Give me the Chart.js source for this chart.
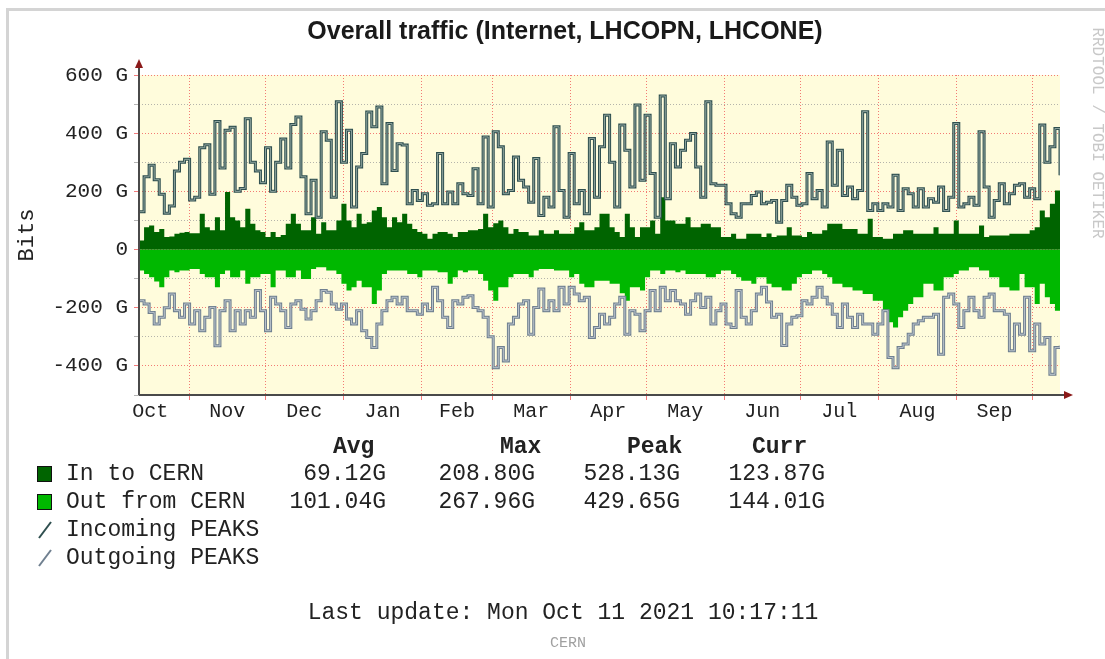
<!DOCTYPE html>
<html>
<head>
<meta charset="utf-8">
<title>Overall traffic (Internet, LHCOPN, LHCONE)</title>
<script src="https://cdn.jsdelivr.net/npm/chart.js@4.4.1/dist/chart.umd.min.js"></script>
<style>
  html, body { margin: 0; padding: 0; background: #fff; }
  #wrap { width: 1105px; height: 659px; }
</style>
</head>
<body>
<div id="wrap"><canvas id="myChart" width="1105" height="659"></canvas></div>
<script>
/* Data (Gbit/s), one value every ~2 days from 12 Oct 2020 to 11 Oct 2021 */

const monthNames = ['Oct', 'Nov', 'Dec', 'Jan', 'Feb', 'Mar', 'Apr', 'May', 'Jun', 'Jul', 'Aug', 'Sep'];
// day offsets (from 12 Oct 2020) of month starts and month middles
const monthStarts = [20, 50, 81, 112, 140, 171, 201, 232, 262, 293, 324, 354];
const monthMids = [4.5, 35, 65.5, 96.5, 126, 155.5, 186, 216.5, 247, 277.5, 308.5, 339];

const inPeaks = [
  130, 250, 290, 240, 190, 125, 150, 270, 300, 310, 170, 180, 350, 360, 190, 440, 280, 410, 420, 200, 210, 450, 300, 270, 230, 350, 200, 300, 380, 280, 430,
  456, 250, 123, 238, 111, 405, 376, 180, 508, 300, 410, 146, 284, 330, 473, 422, 490, 226, 433, 272, 364, 359, 157, 203, 169, 192, 152, 157, 330, 157, 198,
  157, 226, 192, 186, 278, 157, 387, 146, 405, 353, 192, 203, 318, 238, 215, 163, 313, 117, 180, 146, 422, 203, 111, 330, 157, 203, 123, 382, 180, 353,
  462, 300, 146, 428, 341, 215, 497, 238, 462, 261, 111, 528, 175, 364, 284, 341, 376, 399, 284, 180, 508, 226, 221, 221, 157, 123, 111, 157, 157, 186, 198,
  157, 163, 169, 94, 169, 221, 180, 152, 157, 261, 175, 203, 146, 370, 221, 341, 186, 215, 175, 203, 474, 134, 157, 134, 157, 146, 255, 134, 209, 192, 146,
  209, 146, 175, 163, 215, 134, 180, 433, 146, 157, 180, 152, 405, 215, 111, 169, 226, 157, 192, 221, 226, 180, 209, 175, 428, 300, 353, 416, 255
];

const outPeaks = [
  -176, -187, -216, -256, -233, -200, -153, -210, -233, -187, -256, -210, -279, -233, -199, -331, -210, -176, -279, -210, -256, -210, -233, -141, -210, -279, -164, -187, -210, -268, -187,
  -176, -205, -239, -210, -176, -141, -147, -187, -205, -187, -239, -256, -210, -279, -302, -337, -256, -210, -176, -164, -187, -164, -210, -210, -222, -187, -210, -130, -176, -233, -268,
  -176, -187, -164, -159, -199, -210, -233, -300, -406, -337, -383, -256, -233, -187, -176, -291, -199, -136, -210, -176, -210, -130, -187, -130, -153, -176, -164, -302, -268, -222,
  -256, -233, -187, -164, -291, -210, -222, -279, -210, -141, -210, -130, -176, -141, -176, -187, -222, -176, -153, -199, -164, -256, -210, -187, -256, -268, -141, -233, -256, -210, -153,
  -130, -180, -233, -222, -330, -256, -233, -228, -176, -187, -164, -130, -164, -187, -222, -268, -187, -233, -268, -222, -256, -256, -291, -256, -210, -371, -406, -337, -325, -291, -256,
  -245, -233, -233, -222, -360, -164, -153, -187, -268, -210, -164, -210, -233, -164, -153, -210, -210, -222, -348, -256, -291, -164, -348, -256, -325, -302, -429, -337, -331
];

const inAvg = [
  31, 77, 83, 60, 71, 43, 45, 54, 58, 60, 56, 56, 123, 77, 66, 111, 66, 198, 111, 100, 77, 140, 89, 66, 60, 43, 60, 43, 50, 89, 123,
  89, 66, 66, 111, 54, 94, 66, 66, 100, 157, 100, 77, 123, 89, 94, 134, 146, 111, 77, 111, 94, 123, 89, 71, 60, 54, 37, 54, 60, 60, 54,
  43, 60, 60, 66, 66, 71, 123, 77, 90, 100, 77, 54, 71, 60, 60, 48, 48, 66, 54, 54, 66, 54, 54, 54, 77, 94, 66, 66, 77, 123,
  123, 77, 60, 43, 123, 77, 43, 77, 77, 100, 54, 180, 100, 100, 89, 89, 111, 77, 77, 89, 89, 77, 77, 43, 43, 54, 37, 37, 54, 54, 54,
  43, 55, 43, 48, 48, 77, 48, 48, 43, 60, 54, 54, 66, 89, 89, 89, 71, 71, 71, 54, 54, 106, 43, 43, 37, 37, 54, 54, 66, 66, 54,
  54, 54, 54, 77, 54, 54, 54, 100, 54, 54, 54, 54, 83, 43, 48, 48, 48, 48, 54, 54, 54, 54, 66, 77, 134, 111, 157, 203, 123
];

const outAvg = [
  -72, -84, -95, -110, -130, -95, -72, -78, -72, -72, -67, -67, -84, -95, -95, -130, -84, -72, -95, -95, -72, -118, -95, -95, -84, -84, -130, -72, -72, -95, -95,
  -72, -101, -101, -67, -61, -61, -72, -72, -84, -118, -141, -130, -107, -130, -130, -187, -141, -84, -72, -72, -72, -72, -84, -84, -95, -72, -72, -72, -78, -78, -118,
  -95, -72, -78, -72, -72, -84, -107, -141, -176, -130, -130, -95, -84, -84, -84, -95, -72, -67, -67, -67, -72, -72, -72, -95, -84, -118, -130, -130, -107, -107,
  -107, -118, -118, -150, -176, -130, -130, -141, -95, -72, -72, -84, -72, -72, -78, -72, -84, -84, -84, -84, -95, -95, -84, -72, -72, -84, -95, -107, -107, -118, -95,
  -95, -118, -130, -130, -141, -141, -118, -95, -84, -84, -72, -72, -84, -95, -118, -118, -130, -130, -141, -141, -153, -153, -176, -176, -210, -250, -268, -233, -210, -187, -164,
  -164, -118, -118, -141, -141, -95, -95, -84, -72, -72, -61, -61, -72, -72, -95, -95, -130, -130, -141, -141, -84, -130, -130, -187, -118, -164, -187, -210, -176
];

const statHeaders = ['Avg', 'Max', 'Peak', 'Curr'];
const statRows = [
  ['In to CERN', '69.12G', '208.80G', '528.13G', '123.87G'],
  ['Out from CERN', '101.04G', '267.96G', '429.65G', '144.01G']
];
const peakRows = ['Incoming PEAKS', 'Outgoing PEAKS'];

/* Colours */
const IN_COLOR = '#006400';
const OUT_COLOR = '#00b800';
const IN_PEAK = '#2f4f4f';
const OUT_PEAK = '#708090';
const RED_GRID = 'rgba(240, 90, 90, 0.8)';
const GRAY_GRID = 'rgba(150, 150, 150, 0.7)';

function mono (px, bold) {
  return (bold ? 'bold ' : '') + px + 'px "Liberation Mono", "DejaVu Sans Mono", monospace';
}

// spread the samples over the 365 day range
function toPoints (vals) {
  return vals.map(function (v, i) {
    return { x: i * 365 / (vals.length - 1), y: v };
  });
}

function lineSet (vals, color, width) {
  return {
    data: toPoints(vals),
    borderColor: color,
    borderWidth: width,
    stepped: 'before',
    fill: false,
    pointRadius: 0,
    borderJoinStyle: 'miter',
    borderCapStyle: 'butt'
  };
}

function areaSet (vals, color) {
  return {
    data: toPoints(vals),
    borderWidth: 0,
    borderColor: color,
    backgroundColor: color,
    stepped: 'before',
    fill: 'origin',
    pointRadius: 0
  };
}

/* Plugin: background, axes with arrows, title, legend table, footer */
const rrdDecor = {
  id: 'rrdDecor',
  beforeDraw(chart) {
    const ctx = chart.ctx;
    const a = chart.chartArea;
    ctx.save();
    ctx.fillStyle = '#ffffff';
    ctx.fillRect(0, 0, chart.width, chart.height);
    ctx.fillStyle = '#d4d4d4';
    ctx.fillRect(6, 8, chart.width - 6, 3);
    ctx.fillRect(6, 8, 3, chart.height - 8);
    ctx.fillStyle = '#fffcdc';
    ctx.fillRect(a.left, a.top, a.right - a.left, a.bottom - a.top);
    ctx.restore();
  },
  afterDraw(chart) {
    const ctx = chart.ctx;
    const a = chart.chartArea;
    ctx.save();

    // axes
    ctx.strokeStyle = '#4a4a4a';
    ctx.lineWidth = 2;
    ctx.beginPath();
    ctx.moveTo(a.left, a.bottom);
    ctx.lineTo(a.right + 6, a.bottom);
    ctx.moveTo(a.left, a.bottom);
    ctx.lineTo(a.left, a.top - 8);
    ctx.stroke();

    ctx.fillStyle = '#8b1a1a';
    ctx.beginPath();
    ctx.moveTo(a.left, a.top - 16);
    ctx.lineTo(a.left - 4, a.top - 7);
    ctx.lineTo(a.left + 4, a.top - 7);
    ctx.closePath();
    ctx.fill();
    ctx.beginPath();
    ctx.moveTo(a.right + 13, a.bottom);
    ctx.lineTo(a.right + 4, a.bottom - 4);
    ctx.lineTo(a.right + 4, a.bottom + 4);
    ctx.closePath();
    ctx.fill();

    // title
    ctx.fillStyle = '#1a1a1a';
    ctx.textAlign = 'center';
    ctx.textBaseline = 'middle';
    ctx.font = 'bold 25px "Liberation Sans", Arial, sans-serif';
    ctx.fillText('Overall traffic (Internet, LHCOPN, LHCONE)', 565, 32);

    // legend table
    const headX = [333, 500, 627, 752];
    const valX = [386, 535, 680, 825];
    const rowY = [474, 502, 530, 558];
    ctx.fillStyle = '#222';
    ctx.textAlign = 'left';
    ctx.font = mono(23, true);
    statHeaders.forEach(function (h, i) {
      ctx.fillText(h, headX[i], 447);
    });

    ctx.font = mono(23);
    statRows.forEach(function (row, r) {
      ctx.fillStyle = r === 0 ? IN_COLOR : OUT_COLOR;
      ctx.fillRect(37, rowY[r] - 8, 15, 16);
      ctx.strokeStyle = '#111';
      ctx.lineWidth = 1;
      ctx.strokeRect(37.5, rowY[r] - 7.5, 14, 15);
      ctx.fillStyle = '#222';
      ctx.textAlign = 'left';
      ctx.fillText(row[0], 66, rowY[r]);
      ctx.textAlign = 'right';
      for (let c = 1; c < row.length; c++) {
        ctx.fillText(row[c], valX[c - 1], rowY[r]);
      }
    });

    peakRows.forEach(function (label, r) {
      const y = rowY[r + 2];
      ctx.strokeStyle = r === 0 ? IN_PEAK : OUT_PEAK;
      ctx.lineWidth = 2;
      ctx.beginPath();
      ctx.moveTo(39, y + 8);
      ctx.lineTo(51, y - 8);
      ctx.stroke();
      ctx.fillStyle = '#222';
      ctx.textAlign = 'left';
      ctx.fillText(label, 66, y);
    });

    // footer
    ctx.textAlign = 'center';
    ctx.fillText('Last update: Mon Oct 11 2021 10:17:11', 563, 613);
    ctx.fillStyle = '#a0a0a0';
    ctx.font = mono(15);
    ctx.fillText('CERN', 568, 643);

    // vertical credit on the right
    ctx.translate(1097, 133);
    ctx.rotate(Math.PI / 2);
    ctx.fillStyle = '#c8c8c8';
    ctx.font = mono(16);
    ctx.fillText('RRDTOOL / TOBI OETIKER', 0, 0);

    ctx.restore();
  }
};

var ctx = document.getElementById('myChart').getContext('2d');

var chart = new Chart(ctx, {
  type: 'line',
  data: {
    datasets: [
      lineSet(inPeaks, '#8fa49e', 1),
      lineSet(inPeaks, IN_PEAK, 3),
      lineSet(outPeaks, '#b9c2cb', 1),
      lineSet(outPeaks, OUT_PEAK, 3),
      areaSet(inAvg, IN_COLOR),
      areaSet(outAvg, OUT_COLOR)
    ]
  },
  options: {
    responsive: false,
    animation: false,
    devicePixelRatio: 1,
    layout: { padding: { top: 75, right: 45, bottom: 0, left: 8 } },
    plugins: {
      legend: { display: false },
      tooltip: { enabled: false },
      title: { display: false }
    },
    scales: {
      x: {
        type: 'linear',
        min: 0,
        max: 365,
        afterFit: function (scale) { scale.height = 264; },
        afterBuildTicks: function (scale) {
          scale.ticks = monthStarts.concat(monthMids)
            .sort(function (p, q) { return p - q; })
            .map(function (v) { return { value: v }; });
        },
        grid: {
          color: function (c) {
            return c.tick && monthStarts.includes(c.tick.value) ? RED_GRID : 'rgba(0,0,0,0)';
          },
          lineWidth: 1,
          tickLength: 5,
          borderDash: [1, 2]
        },
        border: { display: false, dash: [1, 2] },
        ticks: {
          autoSkip: false,
          maxRotation: 0,
          padding: 0,
          color: '#222',
          font: { family: 'Liberation Mono', size: 20 },
          callback: function (value) {
            const idx = monthMids.indexOf(value);
            return idx >= 0 ? monthNames[idx] : '';
          }
        }
      },
      y: {
        type: 'linear',
        min: -500,
        max: 600,
        afterFit: function (scale) { scale.width = 131; },
        grid: {
          color: function (c) {
            if (!c.tick) return GRAY_GRID;
            return c.tick.value % 200 === 0 ? RED_GRID : GRAY_GRID;
          },
          lineWidth: 1,
          tickLength: 5,
          borderDash: [1, 2]
        },
        border: { display: false, dash: [1, 2] },
        title: {
          display: true,
          text: 'Bits',
          color: '#222',
          font: { family: 'Liberation Mono', size: 22 },
          padding: { top: 6, bottom: 0 }
        },
        ticks: {
          stepSize: 100,
          padding: 6,
          color: '#222',
          font: { family: 'Liberation Mono', size: 21 },
          callback: function (value) {
            if (value % 200 !== 0) return '';
            return value === 0 ? '0' : value + ' G';
          }
        }
      }
    }
  },
  plugins: [rrdDecor]
});
</script>
</body>
</html>
